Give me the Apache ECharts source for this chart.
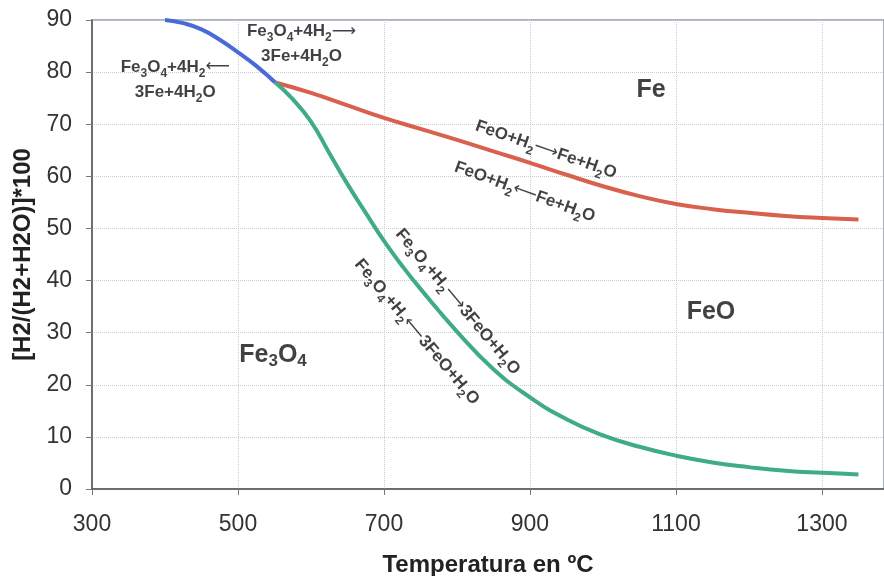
<!DOCTYPE html>
<html><head><meta charset="utf-8">
<script src="https://cdn.jsdelivr.net/npm/echarts@6/dist/echarts.min.js"></script>
<style>html,body{margin:0;padding:0;background:#fff}#c{width:884px;height:576px}</style>
</head><body><div id="c"></div>
<script>
// ---- data ----
const xTicks = [300, 500, 700, 900, 1100, 1300];
const yTicks = [0, 10, 20, 30, 40, 50, 60, 70, 80, 90];
const blueT = [400, 425, 450, 475, 500, 525, 551];
const blueV = [90, 89.4, 88.2, 86.2, 83.8, 81.2, 78];
const redT = [551, 600, 650, 700, 750, 800, 850, 900, 950, 1000, 1050, 1100, 1150, 1200, 1250, 1300, 1350];
const redV = [78, 76, 73.6, 71.2, 69.1, 67, 64.8, 62.6, 60.3, 58.1, 56.2, 54.7, 53.7, 53, 52.4, 52, 51.7];
const greenT = [551, 575, 600, 625, 650, 675, 700, 725, 750, 800, 850, 900, 950, 1000, 1050, 1100, 1150, 1200, 1250, 1300, 1350];
const greenV = [78, 74.8, 70.5, 64.5, 58.5, 53, 47.6, 42.8, 38.4, 30.2, 23, 17.6, 13.4, 10.3, 8.1, 6.4, 5.1, 4.2, 3.5, 3.1, 2.8];

// annotations (text with _n for subscripts)
const annoText = ['Fe_3O_4+4H_2⟵\n3Fe+4H_2O', 'Fe_3O_4+4H_2⟶\n3Fe+4H_2O', 'FeO+H_2⟶Fe+H_2O', 'FeO+H_2⟵Fe+H_2O',
                  'Fe_3O_4+H_2⟶3FeO+H_2O', 'Fe_3O_4+H_2⟵3FeO+H_2O'];
const annoT = [414, 587, 922, 893, 801, 745];
const annoV = [78.6, 85.4, 65.1, 57.0, 35.9, 30.1];
const annoRot = [0, 0, -19, -20, -50, -50];
const regionText = ['Fe', 'FeO', 'Fe_3O_4'];
const regionT = [1066, 1148, 548];
const regionV = [76.6, 34.0, 25.7];

const FONT = 'Liberation Sans, Arial, Helvetica, sans-serif';
const INK = '#111';
function toRich(str, b, s) {
  return str.split('\n').map(line =>
    '{' + b + '|' + line.replace(/_(\d)/g, '}{' + s + '|$1}{' + b + '|')
                        .replace(/([⟵⟶])/g, '}{a|$1}{' + b + '|') + '}'
  ).join('\n');
}
const rich = {
  b: {fontSize: 17, fontWeight: 'bold', color: INK, fontFamily: FONT, lineHeight: 25, verticalAlign: 'middle'},
  a: {fontSize: 17, fontWeight: 'normal', color: INK, fontFamily: 'DejaVu Sans, sans-serif', lineHeight: 25, verticalAlign: 'middle'},
  s: {fontSize: 12, fontWeight: 'bold', color: INK, fontFamily: FONT, lineHeight: 25, verticalAlign: 'bottom'},
  L: {fontSize: 25, fontWeight: 'bold', color: INK, fontFamily: FONT, lineHeight: 30, verticalAlign: 'middle'},
  Ls: {fontSize: 17, fontWeight: 'bold', color: INK, fontFamily: FONT, lineHeight: 30, verticalAlign: 'bottom'}
};

const annoData = annoText.map((t, i) => ({
  value: [annoT[i], annoV[i]],
  label: {show: true, position: 'inside', rotate: annoRot[i], align: 'center', verticalAlign: 'middle',
          color: INK, textBorderWidth: 0, formatter: toRich(t, 'b', 's'), rich: rich}
}));
const regionData = regionText.map((t, i) => ({
  value: [regionT[i], regionV[i]],
  label: {show: true, position: 'inside', align: 'center', verticalAlign: 'middle',
          color: INK, textBorderWidth: 0, formatter: toRich(t, 'L', 'Ls'), rich: rich}
}));

const chart = echarts.init(document.getElementById('c'), null, {renderer: 'canvas'});
chart.setOption({
  backgroundColor: '#fff',
  animation: false,
  grid: {left: 92, top: 20, right: 0, bottom: 87, containLabel: false, outerBoundsMode: 'none',
         show: true, borderColor: '#8e99a6', borderWidth: 1.5, backgroundColor: 'transparent'},
  xAxis: {
    type: 'value', min: 300, max: 1385, interval: 200,
    name: 'Temperatura en ºC', nameLocation: 'middle', nameGap: 64,
    nameTextStyle: {fontFamily: FONT, fontSize: 24, fontWeight: 'bold', color: '#222'},
    axisLine: {show: true, lineStyle: {color: '#555', width: 1.5}},
    axisTick: {show: true, length: 6, lineStyle: {color: '#777'}},
    axisLabel: {fontFamily: FONT, fontSize: 23, color: '#333', margin: 24, showMaxLabel: false,
                formatter: v => xTicks.includes(v) ? String(v) : ''},
    splitLine: {show: true, lineStyle: {color: '#c5ccd4', type: 'dotted', width: 1}}
  },
  yAxis: {
    type: 'value', min: 0, max: 90, interval: 10,
    name: '[H2/(H2+H2O)]*100', nameLocation: 'middle', nameGap: 56,
    nameTextStyle: {fontFamily: FONT, fontSize: 24, fontWeight: 'bold', color: '#222'},
    axisLine: {show: true, lineStyle: {color: '#555', width: 1.5}},
    axisTick: {show: true, length: 6, lineStyle: {color: '#777'}},
    axisLabel: {fontFamily: FONT, fontSize: 23, color: '#333', margin: 20,
                formatter: v => yTicks.includes(v) ? String(v) : ''},
    splitLine: {show: true, lineStyle: {color: '#c5ccd4', type: 'dotted', width: 1}}
  },
  series: [
    {type: 'line', data: blueT.map((t, i) => [t, blueV[i]]), smooth: true, symbol: 'none',
     lineStyle: {color: '#4a6ad8', width: 4}},
    {type: 'line', data: redT.map((t, i) => [t, redV[i]]), smooth: true, symbol: 'none',
     lineStyle: {color: '#d8604c', width: 4}},
    {type: 'line', data: greenT.map((t, i) => [t, greenV[i]]), smooth: true, symbol: 'none',
     lineStyle: {color: '#3fab88', width: 4}},
    {type: 'scatter', data: annoData.concat(regionData), symbolSize: 1, silent: true,
     itemStyle: {color: 'rgba(0,0,0,0)'}}
  ]
});
</script></body></html>
